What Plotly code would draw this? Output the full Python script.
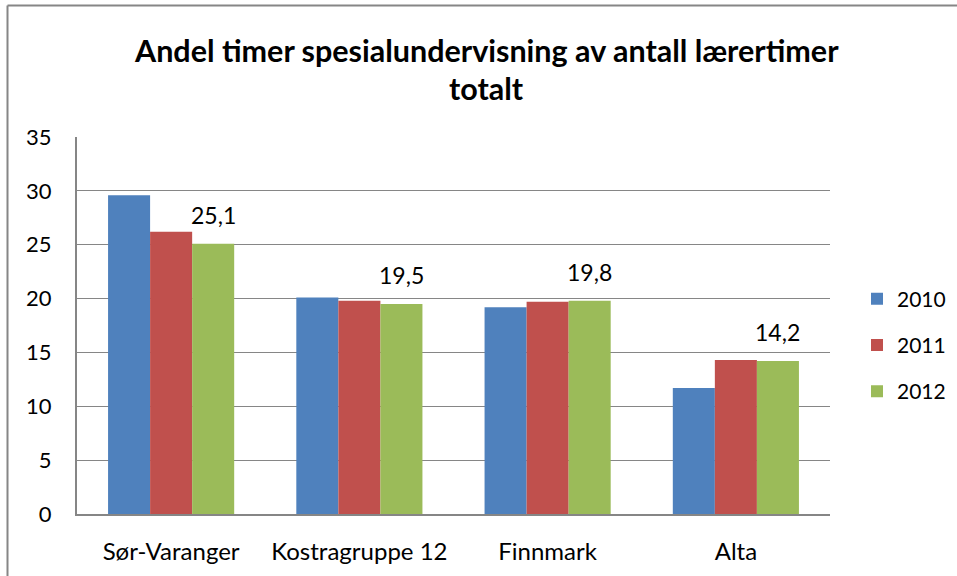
import plotly.graph_objects as go

categories = ["Sør-Varanger", "Kostragruppe 12", "Finnmark", "Alta"]
years = ["2010", "2011", "2012"]
values_2010 = [29.6, 20.1, 19.2, 11.7]
values_2011 = [26.2, 19.8, 19.7, 14.3]
values_2012 = [25.1, 19.5, 19.8, 14.2]
y_ticks = [0, 5, 10, 15, 20, 25, 30, 35]
title_lines = ["Andel timer spesialundervisning av antall lærertimer", "totalt"]

colors = ["#4F81BD", "#C0504D", "#9BBB59"]
FONT = "Lato"
W, H = 957, 576
L, R, T, B = 77, 830, 137, 514
BARGAP = 0.33


def px_x(p):
    return (p - L) / (R - L)


def px_y(p):
    return (B - p) / (B - T)


fig = go.Figure()
for yr, vals, col in zip(years, [values_2010, values_2011, values_2012], colors):
    fig.add_trace(go.Bar(
        x=categories, y=vals, name=yr, marker=dict(color=col, line=dict(width=0)),
        legendgroup=yr, hoverinfo="skip",
    ))

# data labels for 2012 series
offset = (1 - BARGAP) / 3
annotations = []
for i, v in enumerate(values_2012):
    annotations.append(dict(
        x=i + offset, y=v, xref="x", yref="y", text=f"{v:.1f}".replace(".", ","),
        showarrow=False, yanchor="middle", yshift=29,
        font=dict(family=FONT, size=23, color="#000000"),
    ))

for txt, yp in zip(title_lines, [50, 88]):
    annotations.append(dict(
        x=px_x(487), y=px_y(yp), xref="paper", yref="paper", text=f"<b>{txt}</b>",
        showarrow=False, xanchor="center", yanchor="middle",
        font=dict(family=FONT, size=30.5, color="#000000"),
    ))

fig.update_layout(
    width=W, height=H,
    margin=dict(l=L, r=W - R, t=T, b=H - B, pad=0, autoexpand=False),
    paper_bgcolor="white", plot_bgcolor="white",
    barmode="group", bargap=BARGAP, bargroupgap=0,
    separators=",.",
    font=dict(family=FONT, size=21, color="#000000"),
    showlegend=True,
    legend=dict(
        x=px_x(857), y=px_y(345), xanchor="left", yanchor="middle",
        font=dict(family=FONT, size=21, color="#000000"),
        tracegroupgap=16, bgcolor="rgba(0,0,0,0)",
    ),
    annotations=annotations,
    shapes=[
        dict(type="line", xref="paper", yref="paper",
             x0=px_x(7.5), x1=px_x(7.5), y0=px_y(5.5), y1=px_y(580),
             line=dict(color="#868686", width=2)),
        dict(type="line", xref="paper", yref="paper",
             x0=px_x(7.5), x1=px_x(960), y0=px_y(5.5), y1=px_y(5.5),
             line=dict(color="#868686", width=2)),
    ],
)

fig.update_xaxes(
    type="category", showline=True, linecolor="#868686", linewidth=2,
    ticks="", showgrid=False, ticklabelstandoff=15,
    tickfont=dict(family=FONT, size=24, color="#000000"),
    fixedrange=True,
)
fig.update_yaxes(
    range=[0, 35], tickvals=y_ticks, showline=True, linecolor="#868686", linewidth=2,
    showgrid=True, gridcolor="#868686", gridwidth=1, zeroline=False,
    ticks="", ticklabelstandoff=19,
    tickfont=dict(family=FONT, size=22, color="#000000"),
    fixedrange=True,
)

fig.write_html(
    "out.html",
    config={"displayModeBar": False},
    post_script="document.body.style.margin='0';document.body.style.overflow='hidden';",
)
